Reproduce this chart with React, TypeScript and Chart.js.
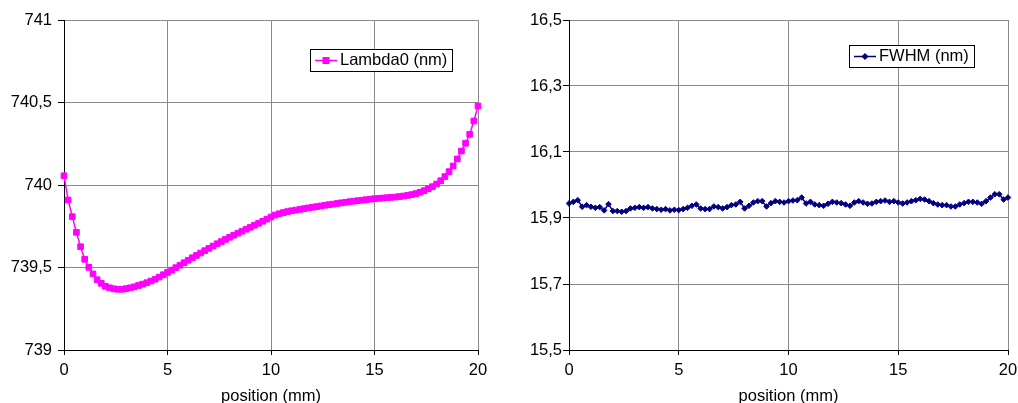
import React, { useEffect, useRef } from 'react';
import { Chart, registerables } from 'chart.js';

Chart.register(...registerables);

const FONT = '"Liberation Sans", Arial, Helvetica, sans-serif';
const FS = 16.5;

const positions = [
  0, 0.2, 0.4, 0.6, 0.8, 1, 1.2, 1.4, 1.6, 1.8,
  2, 2.2, 2.4, 2.6, 2.8, 3, 3.2, 3.4, 3.6, 3.8,
  4, 4.2, 4.4, 4.6, 4.8, 5, 5.2, 5.4, 5.6, 5.8,
  6, 6.2, 6.4, 6.6, 6.8, 7, 7.2, 7.4, 7.6, 7.8,
  8, 8.2, 8.4, 8.6, 8.8, 9, 9.2, 9.4, 9.6, 9.8,
  10, 10.2, 10.4, 10.6, 10.8, 11, 11.2, 11.4, 11.6, 11.8,
  12, 12.2, 12.4, 12.6, 12.8, 13, 13.2, 13.4, 13.6, 13.8,
  14, 14.2, 14.4, 14.6, 14.8, 15, 15.2, 15.4, 15.6, 15.8,
  16, 16.2, 16.4, 16.6, 16.8, 17, 17.2, 17.4, 17.6, 17.8,
  18, 18.2, 18.4, 18.6, 18.8, 19, 19.2, 19.4, 19.6, 19.8,
  20,
];

const lambda0 = [
  740.056, 739.909, 739.808, 739.713, 739.626, 739.550, 739.501, 739.461, 739.426, 739.404,
  739.386, 739.377, 739.371, 739.368, 739.368, 739.372, 739.377, 739.383, 739.391, 739.399,
  739.408, 739.418, 739.429, 739.442, 739.456, 739.470, 739.484, 739.499, 739.514, 739.529,
  739.544, 739.559, 739.573, 739.588, 739.602, 739.616, 739.630, 739.644, 739.657, 739.670,
  739.683, 739.696, 739.708, 739.720, 739.732, 739.744, 739.756, 739.768, 739.780, 739.793,
  739.806, 739.818, 739.826, 739.833, 739.839, 739.844, 739.848, 739.852, 739.857, 739.861,
  739.865, 739.869, 739.873, 739.877, 739.881, 739.884, 739.888, 739.892, 739.895, 739.899,
  739.902, 739.905, 739.908, 739.911, 739.914, 739.917, 739.919, 739.921, 739.923, 739.925,
  739.927, 739.930, 739.933, 739.937, 739.942, 739.948, 739.956, 739.966, 739.977, 739.990,
  740.006, 740.026, 740.051, 740.081, 740.115, 740.158, 740.206, 740.253, 740.307, 740.388,
  740.479,
];

const fwhm = [
  15.944, 15.949, 15.954, 15.934, 15.939, 15.934, 15.931, 15.933, 15.923, 15.942,
  15.921, 15.921, 15.919, 15.921, 15.929, 15.931, 15.933, 15.931, 15.933, 15.929,
  15.927, 15.925, 15.927, 15.923, 15.925, 15.924, 15.927, 15.931, 15.937, 15.941,
  15.929, 15.927, 15.927, 15.935, 15.933, 15.929, 15.933, 15.939, 15.941, 15.949,
  15.929, 15.937, 15.947, 15.951, 15.951, 15.935, 15.945, 15.951, 15.949, 15.947,
  15.951, 15.953, 15.954, 15.962, 15.944, 15.949, 15.941, 15.939, 15.937, 15.943,
  15.949, 15.947, 15.945, 15.941, 15.937, 15.947, 15.951, 15.947, 15.943, 15.944,
  15.949, 15.951, 15.953, 15.949, 15.951, 15.947, 15.944, 15.947, 15.951, 15.954,
  15.958, 15.956, 15.951, 15.945, 15.941, 15.939, 15.939, 15.935, 15.935, 15.941,
  15.945, 15.949, 15.949, 15.947, 15.943, 15.951, 15.962, 15.972, 15.972, 15.956,
  15.962,
];

const positionTicks = [0, 5, 10, 15, 20];
const lambdaTicks = [739, 739.5, 740, 740.5, 741];
const fwhmTicks = [15.5, 15.7, 15.9, 16.1, 16.3, 16.5];

const xTitle = 'position (mm)';
const lambdaLabel = 'Lambda0 (nm)';
const fwhmLabel = 'FWHM (nm)';

const font = { family: FONT, size: FS, lineHeight: 1.2 };

const boxLegend = {
  id: 'boxLegend',
  afterDraw(chart: any, _args: any, opts: any) {
    const { ctx, chartArea } = chart;
    const ds = chart.data.datasets[0];
    ctx.save();
    ctx.font = `${FS}px ${FONT}`;
    const textW = ctx.measureText(ds.label).width;
    const w = Math.round(5 + 22 + 3 + textW + 5);
    const right = Math.round(chartArea.right - opts.right);
    const left = right - w;
    const top = Math.round(chartArea.top + opts.top);
    const h = opts.height;
    ctx.fillStyle = '#ffffff';
    ctx.fillRect(left, top, w, h);
    ctx.strokeStyle = '#000000';
    ctx.lineWidth = 1;
    ctx.strokeRect(left + 0.5, top + 0.5, w, h);
    const cy = top + h / 2 + 0.5;
    ctx.strokeStyle = ds.borderColor;
    ctx.lineWidth = ds.borderWidth;
    ctx.beginPath();
    ctx.moveTo(left + 5, cy);
    ctx.lineTo(left + 27, cy);
    ctx.stroke();
    const mx = left + 16;
    ctx.fillStyle = ds.borderColor;
    if (opts.marker === 'rect') {
      ctx.fillRect(mx - 3.5, cy - 3.5, 7, 7);
    } else {
      ctx.beginPath();
      ctx.moveTo(mx, cy - 3.5);
      ctx.lineTo(mx + 3.5, cy);
      ctx.lineTo(mx, cy + 3.5);
      ctx.lineTo(mx - 3.5, cy);
      ctx.closePath();
      ctx.fill();
    }
    ctx.fillStyle = '#000000';
    ctx.textAlign = 'left';
    ctx.textBaseline = 'middle';
    ctx.fillText(ds.label, left + 30, cy);
    ctx.restore();
  },
};

function fmtComma(v: number) {
  const r = Math.round(v * 10) / 10;
  const s = Number.isInteger(r) ? String(r) : r.toFixed(1);
  return s.replace('.', ',');
}

function makeConfig(p: any) {
  return {
    type: 'line',
    data: {
      datasets: [
        {
          label: p.label,
          data: positions.map((x, i) => ({ x, y: p.values[i] })),
          borderColor: p.color,
          backgroundColor: p.color,
          borderWidth: 1.5,
          pointStyle: p.pointStyle,
          pointRadius: p.pointRadius,
          pointBorderWidth: 1,
          pointBackgroundColor: p.color,
          pointBorderColor: p.color,
          tension: 0,
          clip: false,
        },
      ],
    },
    plugins: [boxLegend],
    options: {
      animation: false,
      responsive: false,
      events: [],
      layout: { padding: { left: 0, right: p.padRight, top: 20, bottom: 0 } },
      plugins: {
        legend: { display: false },
        tooltip: { enabled: false },
        boxLegend: { right: p.legendRight, top: p.legendTop, height: 22, marker: p.pointStyle },
      },
      scales: {
        x: {
          type: 'linear',
          min: 0,
          max: 20,
          afterBuildTicks: (s: any) => {
            s.ticks = positionTicks.map((value) => ({ value }));
          },
          afterFit: (s: any) => {
            s.height = 53;
            s.paddingLeft = 0;
            s.paddingRight = 0;
          },
          grid: { color: '#8a8a8a', tickColor: '#000', tickLength: 5, lineWidth: 1 },
          border: { color: '#000', width: 1 },
          ticks: {
            font,
            color: '#000',
            padding: 6,
            maxRotation: 0,
            autoSkip: false,
            callback: (v: any) => String(v),
          },
          title: {
            display: true,
            text: xTitle,
            font: { family: FONT, size: FS, lineHeight: 1 },
            color: '#000',
            padding: { top: 0, bottom: -2 },
          },
        },
        y: {
          type: 'linear',
          min: p.yTicks[0],
          max: p.yTicks[p.yTicks.length - 1],
          afterBuildTicks: (s: any) => {
            s.ticks = p.yTicks.map((value: number) => ({ value }));
          },
          afterFit: (s: any) => {
            s.width = p.yWidth;
            s.paddingTop = 0;
            s.paddingBottom = 0;
          },
          grid: { color: '#8a8a8a', tickColor: '#000', tickLength: 6, lineWidth: 1 },
          border: { color: '#000', width: 1 },
          ticks: {
            font,
            color: '#000',
            padding: p.yPad,
            autoSkip: false,
            callback: (v: any) => fmtComma(Number(v)),
          },
        },
      },
    },
  };
}

function ChartCanvas({ config, left, width }: { config: any; left: number; width: number }) {
  const ref = useRef<HTMLCanvasElement | null>(null);
  useEffect(() => {
    if (!ref.current) return;
    const chart = new Chart(ref.current, config);
    return () => chart.destroy();
  }, []);
  return (
    <canvas
      ref={ref}
      width={width}
      height={403}
      style={{ position: 'absolute', left, top: 0, width, height: 403, display: 'block' }}
    />
  );
}

export default function App() {
  const leftCfg = makeConfig({
    label: lambdaLabel,
    values: lambda0,
    color: '#ff00ff',
    pointStyle: 'rect',
    pointRadius: 4,
    yTicks: lambdaTicks,
    yWidth: 64,
    yPad: 6,
    padRight: 31,
    legendRight: 26,
    legendTop: 29,
  });
  const rightCfg = makeConfig({
    label: fwhmLabel,
    values: fwhm,
    color: '#000080',
    pointStyle: 'rectRot',
    pointRadius: 2.8,
    yTicks: fwhmTicks,
    yWidth: 60,
    yPad: 1,
    padRight: 10,
    legendRight: 34,
    legendTop: 25,
  });
  return (
    <div style={{ position: 'absolute', left: 0, top: 0, width: 1018, height: 403, background: '#fff', overflow: 'hidden' }}>
      <ChartCanvas config={leftCfg} left={0} width={509} />
      <ChartCanvas config={rightCfg} left={509} width={509} />
    </div>
  );
}
